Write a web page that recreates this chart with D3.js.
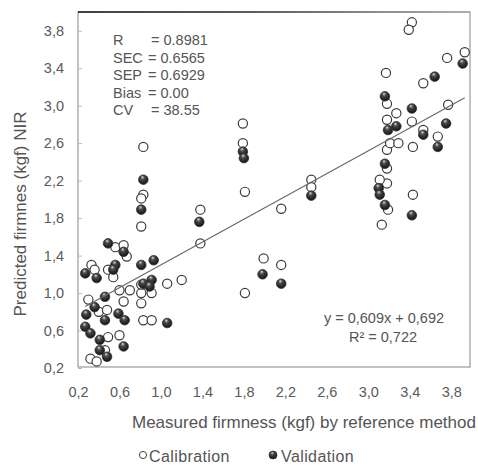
<!DOCTYPE html>
<html>
<head>
<meta charset="utf-8">
<script src="https://cdn.jsdelivr.net/npm/d3@7"></script>
<style>
    body { margin: 0; background: #fff; }
    text { font-family: "Liberation Sans", Arial, sans-serif; }
</style>
</head>
<body>
<div id="wrapper"></div>
<script>
// calibration set (open circles)
const calX = [0.33, 0.36, 0.30, 0.40, 0.32, 0.38, 0.49, 0.54, 0.48, 0.49, 0.46, 0.56, 0.64, 0.67, 0.60, 0.70,
    0.64, 0.60, 0.81, 0.83, 0.81, 0.83, 0.81, 0.81, 0.83, 0.91, 0.81, 0.91, 1.06, 1.20, 1.38, 1.38,
    1.79, 1.79, 1.81, 1.81, 1.99, 2.16, 2.16, 2.45, 2.45, 3.13, 3.19, 3.18, 3.11, 3.18, 3.18, 3.21,
    3.29, 3.18, 3.27, 3.18, 3.42, 3.43, 3.43, 3.53, 3.67, 3.77, 3.53, 3.42, 3.39, 3.93, 3.76, 3.17];
const calY = [1.30, 1.25, 0.93, 0.80, 0.30, 0.27, 1.25, 1.17, 0.82, 0.53, 0.39, 1.49, 1.51, 1.39, 1.03, 1.03,
    0.91, 0.55, 1.71, 2.05, 2.01, 2.56, 1.00, 0.89, 0.71, 0.71, 1.09, 1.00, 1.10, 1.14, 1.53, 1.89,
    2.81, 2.60, 2.08, 1.00, 1.37, 1.30, 1.90, 2.21, 2.13, 1.73, 1.89, 2.17, 2.21, 2.33, 2.53, 2.60,
    2.60, 2.85, 2.92, 3.02, 2.83, 2.56, 2.05, 2.74, 2.67, 3.01, 3.24, 3.89, 3.81, 3.57, 3.51, 3.35];

// validation set (filled circles)
const valX = [0.27, 0.38, 0.28, 0.27, 0.32, 0.36, 0.41, 0.41, 0.48, 0.46, 0.46, 0.49, 0.56, 0.54, 0.59, 0.65,
    0.64, 0.64, 0.81, 0.83, 0.81, 0.93, 0.91, 0.83, 0.89, 1.06, 1.37, 1.79, 1.80, 1.98, 2.16, 2.45,
    3.10, 3.11, 3.16, 3.16, 3.16, 3.19, 3.27, 3.42, 3.42, 3.53, 3.67, 3.75, 3.91, 3.64];
const valY = [1.21, 1.16, 0.77, 0.64, 0.57, 0.85, 0.50, 0.39, 0.32, 0.96, 0.71, 1.53, 1.30, 1.25, 0.78, 0.71,
    0.43, 1.44, 1.30, 2.21, 1.89, 1.35, 1.14, 1.10, 1.07, 0.68, 1.76, 2.51, 2.44, 1.20, 1.10, 2.04,
    2.12, 2.05, 1.94, 2.38, 3.10, 2.74, 2.78, 2.97, 1.83, 2.69, 2.56, 2.81, 3.45, 3.31];

const xTicks = [0.2, 0.6, 1.0, 1.4, 1.8, 2.2, 2.6, 3.0, 3.4, 3.8];
const yTicks = [0.2, 0.6, 1.0, 1.4, 1.8, 2.2, 2.6, 3.0, 3.4, 3.8];

const statLabels = ["R", "SEC", "SEP", "Bias", "CV"];
const statValues = ["0.8981", "0.6565", "0.6929", "0.00", "38.55"];

const slope = 0.609;
const intercept = 0.692;
const r2 = "0,722";

const comma = v => d3.format(".1f")(v).replace(".", ",");

const dimensions = {
    width: 478,
    height: 468,
    margin: {
        top: 12,
        right: 8,
        bottom: 101,
        left: 78,
    },
}
dimensions.boundedWidth = dimensions.width - dimensions.margin.left - dimensions.margin.right;
dimensions.boundedHeight = dimensions.height - dimensions.margin.top - dimensions.margin.bottom;

const wrapper = d3.select("#wrapper")
    .append("svg")
    .attr("width", dimensions.width)
    .attr("height", dimensions.height);

const defs = wrapper.append("defs");
const grad = defs.append("radialGradient")
    .attr("id", "ball")
    .attr("cx", "45%").attr("cy", "40%").attr("r", "60%")
    .attr("fx", "40%").attr("fy", "22%");
grad.append("stop").attr("offset", "0%").attr("stop-color", "#d8d8d8");
grad.append("stop").attr("offset", "35%").attr("stop-color", "#4a4a4a");
grad.append("stop").attr("offset", "100%").attr("stop-color", "#101010");

// scanned top edge is dark on the left and fades out
const topGrad = defs.append("linearGradient")
    .attr("id", "topEdge")
    .attr("x1", "0%").attr("x2", "100%");
topGrad.append("stop").attr("offset", "0%").attr("stop-color", "#222");
topGrad.append("stop").attr("offset", "45%").attr("stop-color", "#444");
topGrad.append("stop").attr("offset", "100%").attr("stop-color", "#aaa");

const bounds = wrapper.append("g")
    .attr("transform", `translate(${dimensions.margin.left},${dimensions.margin.top})`);

const xScale = d3.scaleLinear()
    .domain([0.2, 4.0])
    .range([0, 394]);

const yScale = d3.scaleLinear()
    .domain([0.2, 4.0])
    .range([356, 0]);

// frame
bounds.append("rect")
    .attr("x", 0)
    .attr("y", 0)
    .attr("width", dimensions.boundedWidth)
    .attr("height", 355)
    .attr("fill", "none")
    .attr("stroke", "#999")
    .attr("stroke-width", 1.2);
bounds.append("rect")
    .attr("x", 0).attr("y", -0.8)
    .attr("width", dimensions.boundedWidth).attr("height", 1.6)
    .attr("fill", "url(#topEdge)");

// y axis
const yAxis = bounds.append("g")
    .call(d3.axisLeft(yScale).tickValues(yTicks).tickFormat(comma).tickSize(-4).tickPadding(14));
yAxis.select(".domain").remove();
yAxis.selectAll(".tick line").attr("stroke", "#bbb");
yAxis.selectAll(".tick text")
    .attr("fill", "#5a5a5a")
    .style("font-size", "14.5px");

// x axis
const xAxis = bounds.append("g")
    .attr("transform", `translate(0, 356)`)
    .call(d3.axisBottom(xScale).tickValues(xTicks).tickFormat(comma).tickSize(0).tickPadding(19));
xAxis.select(".domain").remove();
xAxis.selectAll(".tick text")
    .attr("fill", "#5a5a5a")
    .style("font-size", "14.5px");

const cal = calX.map((d, i) => ({x: d, y: calY[i]}));
const val = valX.map((d, i) => ({x: d, y: valY[i]}));

bounds.selectAll(".cal-dots")
    .data(cal)
    .enter()
    .append("circle")
    .attr("class", "cal-dots")
    .attr("cx", d => xScale(d.x))
    .attr("cy", d => yScale(d.y))
    .attr("r", 4.6)
    .attr("fill", "#fff")
    .attr("stroke", "#3a3a3a")
    .attr("stroke-width", 1.2);

bounds.selectAll(".val-dots")
    .data(val)
    .enter()
    .append("circle")
    .attr("class", "val-dots")
    .attr("cx", d => xScale(d.x))
    .attr("cy", d => yScale(d.y))
    .attr("r", 4.8)
    .attr("fill", "url(#ball)")
    .attr("stroke", "#333")
    .attr("stroke-width", 0.8);

// trend line
const allX = [...calX, ...valX];
const lineX = [d3.min(allX), d3.max(allX)];
bounds.append("line")
    .attr("x1", xScale(lineX[0]))
    .attr("y1", yScale(slope * lineX[0] + intercept))
    .attr("x2", xScale(lineX[1]))
    .attr("y2", yScale(slope * lineX[1] + intercept))
    .attr("stroke", "#666")
    .attr("stroke-width", 1.1);

// stats box
const stats = bounds.append("g")
    .attr("fill", "#555")
    .style("font-size", "14.5px");
stats.selectAll(".stat-label")
    .data(statLabels)
    .enter()
    .append("text")
    .attr("x", 35)
    .attr("y", (d, i) => 33 + i * 17.6)
    .text(d => d);
stats.selectAll(".stat-value")
    .data(statValues)
    .enter()
    .append("text")
    .attr("x", (d, i) => (i === 0 || i === 4) ? 73 : 70)
    .attr("y", (d, i) => 33 + i * 17.6)
    .text(d => "= " + d);

// equation
const eq = bounds.append("g")
    .attr("fill", "#555")
    .attr("text-anchor", "middle")
    .style("font-size", "14.5px");
eq.append("text")
    .attr("x", 306)
    .attr("y", 311)
    .text(`y = ${String(slope).replace(".", ",")}x + ${String(intercept).replace(".", ",")}`);
eq.append("text")
    .attr("x", 305)
    .attr("y", 330)
    .text(`R² = ${r2}`);

// axis titles
wrapper.append("text")
    .attr("transform", "translate(26, 214) rotate(-90)")
    .attr("text-anchor", "middle")
    .attr("fill", "#555")
    .style("font-size", "17px")
    .text("Predicted firmnes (kgf) NIR");

wrapper.append("text")
    .attr("x", 132)
    .attr("y", 428)
    .attr("fill", "#555")
    .style("font-size", "17px")
    .text("Measured firmness (kgf) by reference method");

// legend
const legend = wrapper.append("g")
    .style("font-size", "16px")
    .attr("fill", "#555");
legend.append("circle")
    .attr("cx", 143).attr("cy", 455).attr("r", 3.6)
    .attr("fill", "#fff").attr("stroke", "#444").attr("stroke-width", 1);
legend.append("text")
    .attr("x", 149).attr("y", 462)
    .style("letter-spacing", "0.4px")
    .text("Calibration");
legend.append("circle")
    .attr("cx", 273).attr("cy", 455).attr("r", 4)
    .attr("fill", "url(#ball)").attr("stroke", "#333").attr("stroke-width", 0.8);
legend.append("text")
    .attr("x", 281).attr("y", 462)
    .style("letter-spacing", "0.4px")
    .text("Validation");
</script>
</body>
</html>
